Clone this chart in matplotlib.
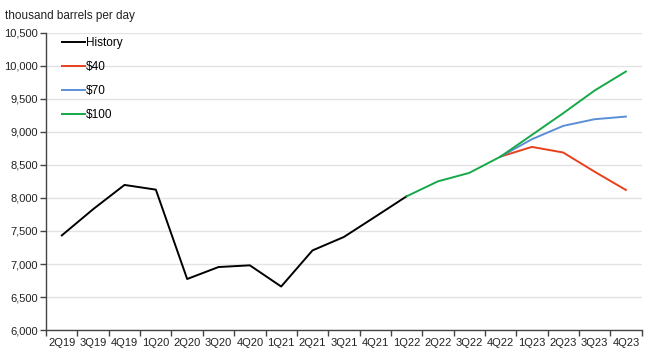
import matplotlib.pyplot as plt
import numpy as np

plt.rcParams['font.family'] = ['Liberation Sans', 'DejaVu Sans']

# 분기 라벨
quarters = ['2Q19', '3Q19', '4Q19', '1Q20', '2Q20', '3Q20', '4Q20', '1Q21', '2Q21',
            '3Q21', '4Q21', '1Q22', '2Q22', '3Q22', '4Q22', '1Q23', '2Q23', '3Q23', '4Q23']

# 실적 (2Q19 ~ 1Q22)
history = [7433, 7830, 8197, 8126, 6773, 6954, 6980, 6659, 7206, 7409, 7715, 8024]

# 전망 (1Q22 ~ 4Q23, $100) / (4Q22 ~ 4Q23, $40, $70)
p100 = [8024, 8251, 8379, 8626, 8954, 9283, 9626, 9914]
p70 = [8626, 8889, 9091, 9192, 9232]
p40 = [8626, 8773, 8688, 8398, 8121]

x = np.arange(len(quarters))

fig, ax = plt.subplots(figsize=(6.5, 3.53), dpi=100)
fig.subplots_adjust(left=0.071, right=0.987, top=0.907, bottom=0.065)

ax.plot(x[:len(history)], history, color='black', lw=1.4, label='History')
ax.plot(x[-len(p40):], p40, color='#e8401c', lw=1.4, label='$40')
ax.plot(x[-len(p70):], p70, color='#5b8fd5', lw=1.4, label='$70')
ax.plot(x[-len(p100):], p100, color='#17a84a', lw=1.4, label='$100')

ax.set_xlim(-0.5, len(quarters) - 0.5)
ax.set_ylim(6000, 10500)
ax.set_yticks(np.arange(6000, 10501, 500))
ax.set_yticklabels([f'{v:,}' for v in range(6000, 10501, 500)])

# 라벨은 가운데, 눈금은 분기 경계
ax.set_xticks(x)
ax.set_xticklabels(quarters)
ax.set_xticks(np.arange(-0.5, len(quarters)), minor=True)
ax.tick_params(axis='x', which='major', length=0, pad=6)
ax.tick_params(axis='x', which='minor', length=4, width=1, color='#444444')
ax.tick_params(axis='y', length=4, width=1, color='#444444', pad=2)
ax.tick_params(labelsize=8, labelcolor='#222222')

ax.grid(axis='y', color='#e3e3e3', lw=1)
ax.set_axisbelow(True)
for s in ['top', 'right']:
    ax.spines[s].set_visible(False)
for s in ['left', 'bottom']:
    ax.spines[s].set_color('#444444')
    ax.spines[s].set_linewidth(1)

ax.legend(loc='upper left', bbox_to_anchor=(0.008, 1.022), frameon=False, fontsize=8.5,
          handlelength=1.95, handletextpad=0.1, labelspacing=1.02)

fig.text(0.008, 0.945, 'thousand barrels per day', fontsize=8.5, color='#222222')

plt.savefig('out.png', dpi=100)
